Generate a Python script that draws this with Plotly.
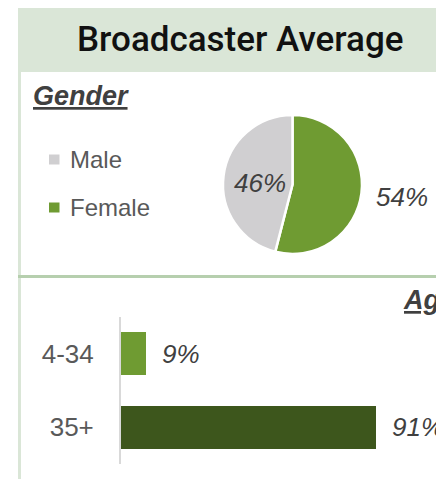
import plotly.graph_objects as go

# ---- data ----
title_text = "Broadcaster Average"
gender_labels = ["Female", "Male"]
gender_values = [54, 46]
gender_colors = ["#6f9b32", "#d0cfd1"]
legend_order = ["Male", "Female"]

age_labels = ["4-34", "35+"]
age_values = [9, 91]
age_colors = ["#6f9b32", "#3d561c"]

W, H = 444, 479
OFF = 8  # page body margin offset
def px(x):
    return (x - OFF) / W
def py(y):
    return 1 - (y - OFF) / H

BASE_FONT = "Liberation Sans, Arial, sans-serif"
fig = go.Figure()

# Pie (gender)
fig.add_trace(go.Pie(
    labels=gender_labels, values=gender_values,
    marker=dict(colors=gender_colors, line=dict(color="white", width=2.5)),
    sort=False, direction="clockwise", rotation=0,
    textinfo="none", hoverinfo="label+percent", showlegend=False,
    domain=dict(x=[px(223), px(362)], y=[py(254), py(115)]),
))

# Bars (age)
fig.add_trace(go.Bar(
    x=age_values, y=age_labels, orientation="h",
    marker=dict(color=age_colors, line=dict(width=0)),
    width=0.585, showlegend=False, hoverinfo="x+y",
))

fig.update_layout(
    width=W, height=H,
    margin=dict(l=0, r=0, t=0, b=0),
    paper_bgcolor="white", plot_bgcolor="white",
    font=dict(family=BASE_FONT, color="#595959"),
    xaxis=dict(domain=[px(121), px(401)], range=[0, 100], visible=False, fixedrange=True),
    yaxis=dict(domain=[py(464), py(317)], autorange="reversed", showline=True,
               linecolor="#d9d9d9", linewidth=2, ticks="", showgrid=False,
               zeroline=False, ticklabelstandoff=20,
               tickfont=dict(size=26, color="#595959", family=BASE_FONT)),
    bargap=0,
)

shapes = [
    # title band
    dict(type="rect", xref="paper", yref="paper", x0=px(18), x1=px(470), y0=py(72), y1=py(5),
         fillcolor="#dae6d7", line=dict(width=0), layer="below"),
    # left vertical rule
    dict(type="line", xref="paper", yref="paper", x0=px(19.5), x1=px(19.5), y0=py(72), y1=py(495),
         line=dict(color="#dae6d7", width=3), layer="below"),
    # horizontal separator
    dict(type="line", xref="paper", yref="paper", x0=px(18), x1=px(470), y0=py(276.5), y1=py(276.5),
         line=dict(color="#b6cfae", width=3), layer="below"),
]

annotations = [
    dict(text=title_text, x=px(240), y=py(39), xref="paper", yref="paper",
         showarrow=False, xanchor="center", yanchor="middle",
         font=dict(size=35, color="#111111", family="Roboto, " + BASE_FONT, weight=500)),
    dict(text="<b><i><u>Gender</u></i></b>", x=px(31), y=py(96), xref="paper", yref="paper",
         showarrow=False, xanchor="left", yanchor="middle",
         font=dict(size=27, color="#404040", family=BASE_FONT)),
    dict(text="<b><i><u>Age</u></i></b>", x=px(401), y=py(300), xref="paper", yref="paper",
         showarrow=False, xanchor="left", yanchor="middle",
         font=dict(size=27, color="#404040", family=BASE_FONT)),
]

# manual legend for the pie
leg_y = {"Male": 159.5, "Female": 207.5}
for name in legend_order:
    c = gender_colors[gender_labels.index(name)]
    yc = leg_y[name]
    shapes.append(dict(type="rect", xref="paper", yref="paper",
                       x0=px(49), x1=px(59.5), y0=py(yc + 5), y1=py(yc - 5),
                       fillcolor=c, line=dict(width=0)))
    annotations.append(dict(text=name, x=px(68), y=py(yc), xref="paper", yref="paper",
                            showarrow=False, xanchor="left", yanchor="middle",
                            font=dict(size=24, color="#595959", family=BASE_FONT)))

# pie value labels
pie_label_pos = {"Male": (260, 183, "center"), "Female": (374, 197, "left")}
for name, v in zip(gender_labels, gender_values):
    x, y, anc = pie_label_pos[name]
    annotations.append(dict(text=f"<i>{v}%</i>", x=px(x), y=py(y), xref="paper", yref="paper",
                            showarrow=False, xanchor=anc, yanchor="middle",
                            font=dict(size=26, color="#404040", family=BASE_FONT)))

# bar value labels
for cat, v in zip(age_labels, age_values):
    annotations.append(dict(text=f"<i>{v}%</i>", x=v, y=cat, xref="x", yref="y",
                            showarrow=False, xanchor="left", yanchor="middle", xshift=14,
                            font=dict(size=26, color="#404040", family=BASE_FONT)))

fig.update_layout(shapes=shapes, annotations=annotations)
fig.write_html("out.html")
